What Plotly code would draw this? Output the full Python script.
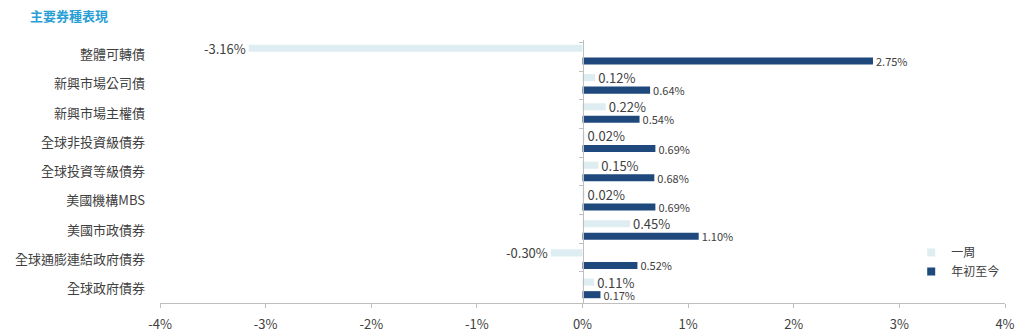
import plotly.graph_objects as go

categories = ["整體可轉債", "新興市場公司債", "新興市場主權債", "全球非投資級債券",
              "全球投資等級債券", "美國機構MBS", "美國市政債券", "全球通膨連結政府債券", "全球政府債券"]
week = [-3.16, 0.12, 0.22, 0.02, 0.15, 0.02, 0.45, -0.30, 0.11]
ytd = [2.75, 0.64, 0.54, 0.69, 0.68, 0.69, 1.10, 0.52, 0.17]
x_ticks = [-4, -3, -2, -1, 0, 1, 2, 3, 4]
x_tick_labels = [f"{v}%" for v in x_ticks]

FONT = "Noto Sans CJK TC"
TXT = "#404040"
AX = "#bfbfbf"
C_WEEK = "#deedf2"
C_YTD = "#1f497d"

fig = go.Figure()
fig.add_trace(go.Bar(
    name="一周", y=categories, x=week, orientation="h",
    marker=dict(color=C_WEEK, line=dict(width=0)),
    text=[f"{v:.2f}%" for v in week], textposition="outside", constraintext="none",
    textfont=dict(size=13, color=TXT, family=FONT), cliponaxis=False,
    showlegend=False, legendgroup="w",
))
fig.add_trace(go.Bar(
    name="年初至今", y=categories, x=ytd, orientation="h",
    marker=dict(color=C_YTD, line=dict(width=0)),
    text=[f"{v:.2f}%" for v in ytd], textposition="outside", constraintext="none",
    textfont=dict(size=11, color=TXT, family=FONT), cliponaxis=False,
    showlegend=False, legendgroup="y",
))
# legend entries with small square markers
for name, col, grp in [("一周", C_WEEK, "w"), ("年初至今", C_YTD, "y")]:
    fig.add_trace(go.Scatter(
        name=name, x=[None], y=[None], mode="markers",
        marker=dict(symbol="square", size=8, color=col), legendgroup=grp,
    ))
# invisible trace to carry the category axis drawn at zero
fig.add_trace(go.Scatter(
    y=categories, x=[0] * len(categories), yaxis="y2", mode="markers",
    marker=dict(opacity=0), showlegend=False, hoverinfo="skip",
))

fig.update_layout(
    width=1024, height=333,
    margin=dict(l=160, r=19, t=40, b=30, autoexpand=False),
    paper_bgcolor="white", plot_bgcolor="white",
    font=dict(family=FONT, color=TXT, size=13),
    barmode="group", bargap=0.14, bargroupgap=0.44,
    title=dict(text="主要券種表現", x=30 / 1024, xref="container", xanchor="left",
               y=1 - 16 / 333, yref="container", yanchor="middle",
               font=dict(size=13, color="#2a9fd6", family=FONT, weight="bold")),
    xaxis=dict(range=[-4, 4], tickmode="array", tickvals=x_ticks, ticktext=x_tick_labels,
               showgrid=False, zeroline=False, showline=True, linecolor=AX, linewidth=1,
               ticks="outside", ticklen=4, tickcolor=AX, automargin=False,
               ticklabelstandoff=5, tickfont=dict(size=13, color=TXT)),
    yaxis=dict(categoryorder="array", categoryarray=categories, autorange="reversed",
               showgrid=False, zeroline=False, showline=False, ticks="", automargin=False,
               ticklabelstandoff=14, tickfont=dict(size=13, color=TXT)),
    yaxis2=dict(overlaying="y", anchor="free", position=0.5,
                categoryorder="array", categoryarray=categories, autorange="reversed",
                showgrid=False, zeroline=False, showline=True, linecolor=AX, linewidth=1,
                ticks="outside", tickson="boundaries", ticklen=4, tickcolor=AX,
                showticklabels=False, automargin=False),
    legend=dict(x=0.889, y=0.247, xanchor="left", yanchor="top",
                font=dict(size=12, color=TXT), bgcolor="rgba(0,0,0,0)",
                itemwidth=30, tracegroupgap=0),
    showlegend=True,
)

fig.write_html("out.html")
